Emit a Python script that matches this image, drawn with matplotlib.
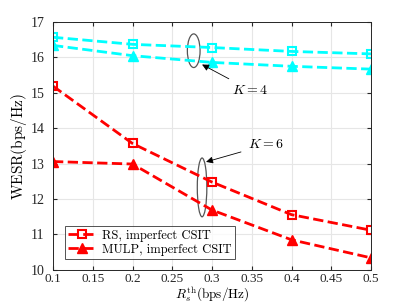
import matplotlib.pyplot as plt
from matplotlib.patches import Ellipse

plt.rcParams['mathtext.fontset'] = 'cm'
plt.rcParams['font.family'] = ['Liberation Serif', 'DejaVu Serif']

# data
rs_th = [0.1, 0.2, 0.3, 0.4, 0.5]
rs_k4 = [16.57, 16.37, 16.28, 16.17, 16.10]
mulp_k4 = [16.34, 16.05, 15.86, 15.75, 15.67]
rs_k6 = [15.19, 13.57, 12.48, 11.56, 11.12]
mulp_k6 = [13.06, 12.99, 11.69, 10.85, 10.34]

fig = plt.figure(figsize=(4.09, 3.06), dpi=100)
ax = fig.add_axes([0.1296, 0.118, 0.7775, 0.81])

ax.plot(rs_th, rs_k4, '--s', color='cyan', lw=2, ms=6, mfc='none', mew=1.5)
ax.plot(rs_th, mulp_k4, '--^', color='cyan', lw=2, ms=7)
ax.plot(rs_th, rs_k6, '--s', color='red', lw=2, ms=6, mfc='none', mew=1.5,
        label='RS, imperfect CSIT')
ax.plot(rs_th, mulp_k6, '--^', color='red', lw=2, ms=7,
        label='MULP, imperfect CSIT')

# ellipses + annotations
ax.add_patch(Ellipse((0.277, 16.19), 0.016, 0.95, fill=False, ec='#555555', lw=0.9))
ax.add_patch(Ellipse((0.2875, 12.33), 0.012, 1.66, fill=False, ec='#555555', lw=0.9))
ax.annotate(r'$K=4$', xy=(0.2875, 15.8), xytext=(0.325, 15.08),
            fontsize=10, va='center',
            arrowprops=dict(arrowstyle='-|>', color='black', lw=0.6,
                            shrinkA=3, shrinkB=0))
ax.annotate(r'$K=6$', xy=(0.2925, 13.05), xytext=(0.345, 13.53),
            fontsize=10, va='center',
            arrowprops=dict(arrowstyle='-|>', color='black', lw=0.6,
                            shrinkA=3, shrinkB=0))

ax.set_xlim(0.1, 0.5)
ax.set_ylim(10, 17)
ax.set_xticks([0.1, 0.15, 0.2, 0.25, 0.3, 0.35, 0.4, 0.45, 0.5])
ax.set_xticklabels(['0.1', '0.15', '0.2', '0.25', '0.3', '0.35', '0.4', '0.45', '0.5'])
ax.set_yticks(range(10, 18))
ax.tick_params(direction='in', top=True, right=True, labelsize=10,
               colors='#262626', length=3)
ax.tick_params(axis='x', pad=2, labelsize=9.5)
ax.tick_params(axis='y', pad=6)
ax.grid(True, color='#e6e6e6', lw=0.8)
ax.set_axisbelow(True)
for s in ax.spines.values():
    s.set_color('#262626')
    s.set_linewidth(0.7)

ax.set_xlabel(r'$R_s^{\mathrm{th}}\mathrm{(bps/Hz)}$', fontsize=9.5, va='bottom')
ax.xaxis.set_label_coords(0.5, -0.135)
ax.set_ylabel(r'$\mathrm{WESR(bps/Hz)}$', fontsize=11, labelpad=1)

leg = ax.legend(loc='lower left', bbox_to_anchor=(0.038, 0.045),
                prop={'family': 'cmr10', 'size': 9},
                fancybox=False, edgecolor='#262626', handlelength=2.2,
                borderpad=0.25, labelspacing=0.15, handletextpad=0.5,
                borderaxespad=0)
leg.get_frame().set_linewidth(0.7)

fig.savefig('out.png', dpi=100)
